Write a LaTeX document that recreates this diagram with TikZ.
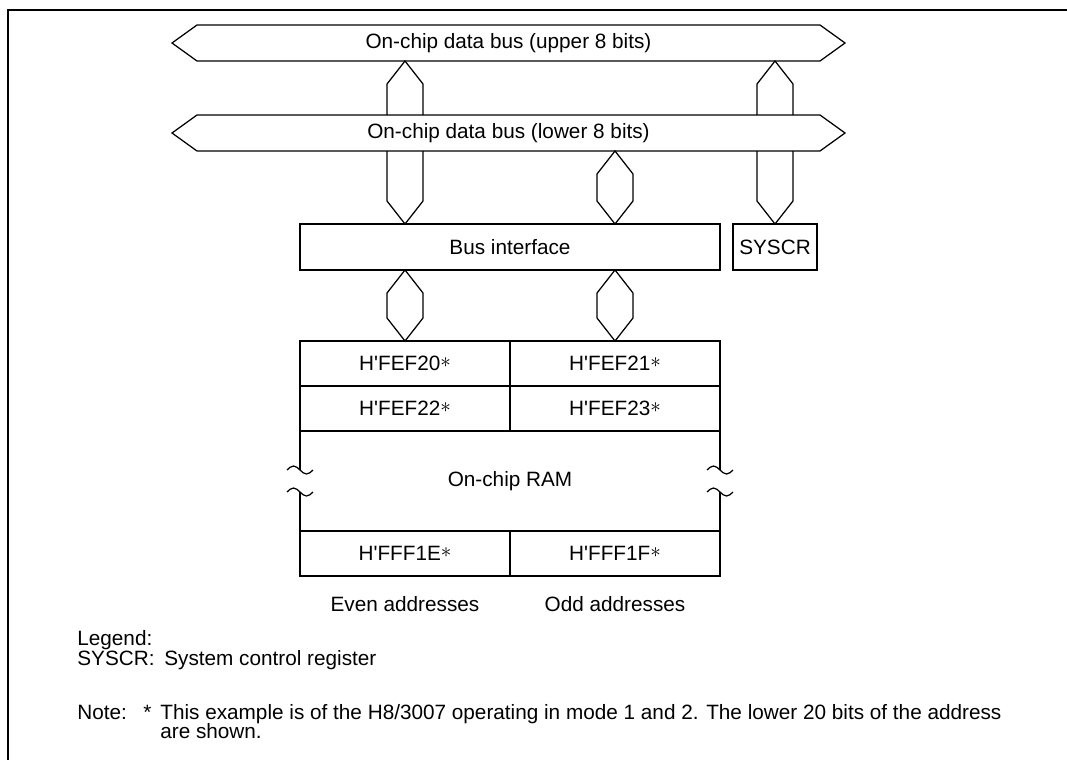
\documentclass[tikz,border=0pt]{standalone}
\usepackage{fontspec}
\setmainfont{Liberation Sans}
\usetikzlibrary{positioning, calc}

% wide bus outline round a text node
\newcommand{\busshape}[1]{%
  \draw[conn] (#1.north west) -- (#1.north east) -- ($(#1.east)+(25,0)$)
    -- (#1.south east) -- (#1.south west) -- ($(#1.west)+(-25,0)$) -- cycle;}
% vertical bus links: tip at top, tip at bottom, tips at both ends
\newcommand{\linkup}[2]{%
  \draw[conn] ($(#2)+(-18,0)$) -- ($(#1)+(-18,23)$) -- (#1)
    -- ($(#1)+(18,23)$) -- ($(#2)+(18,0)$);}
\newcommand{\linkdown}[2]{%
  \draw[conn] ($(#1)+(-18,0)$) -- ($(#2)+(-18,-23)$) -- (#2)
    -- ($(#2)+(18,-23)$) -- ($(#1)+(18,0)$);}
\newcommand{\linkboth}[2]{%
  \draw[conn] (#1) -- ($(#1)+(-18,23)$) -- ($(#2)+(-18,-23)$) -- (#2)
    -- ($(#2)+(18,-23)$) -- ($(#1)+(18,23)$) -- cycle;}
\newcommand{\adr}[1]{H\textquotesingle #1\raisebox{0.14em}{$\ast$}}

\begin{document}
\begin{tikzpicture}[
  x=0.2mm, y=-0.2mm,
  font=\fontsize{11.8}{14}\selectfont,
  conn/.style={line width=0.25mm, line join=miter},
  box/.style={draw, line width=0.25mm, outer sep=0pt, inner sep=0pt,
              minimum height=9.2mm},
  cell/.style={box, minimum width=42mm, minimum height=9mm},
  bus/.style={outer sep=0pt, inner sep=0pt, minimum width=124.6mm,
              minimum height=7.2mm},
  txt/.style={inner sep=0pt, anchor=base west},
  lbl/.style={inner sep=0pt}
]
\useasboundingbox (0,0) rectangle (1067,760);
\draw[line width=0.55mm] (1067,10) -- (8,10) -- (8,760);

% buses
\node[bus] (ub) at (508.5,43) {On-chip data bus (upper 8 bits)};
\node[bus] (lb) at (508.5,133) {On-chip data bus (lower 8 bits)};
\busshape{ub}
\busshape{lb}

% bus interface, SYSCR
\node[box, minimum width=84mm] (bif) at (510,247) {Bus interface};
\node[box, minimum width=16.8mm] (sys) at (775,247) {SYSCR};

% on-chip RAM
\node[cell] (a20) at (405,363.5) {\adr{FEF20}};
\node[cell, right=0pt of a20] (a21) {\adr{FEF21}};
\node[cell, below=0pt of a20] (a22) {\adr{FEF22}};
\node[cell, right=0pt of a22] (a23) {\adr{FEF23}};
\node[lbl, minimum width=84mm, minimum height=20mm, outer sep=0pt,
      below=0pt of a22.south east] (ram) {On-chip RAM};
\node[cell, below=0pt of ram.south west, anchor=north west] (a1e) {\adr{FFF1E}};
\node[cell, right=0pt of a1e] (a1f) {\adr{FFF1F}};

\foreach \s in {west,east} {
  \draw[conn] (ram.north \s) -- ++(0,39);
  \draw[conn] (ram.south \s) -- ++(0,-39);
  \foreach \dy in {39,61}
    \draw[conn] ($(ram.north \s)+(-13,\dy)$) sin ++(6.5,-4) cos ++(6.5,4)
      sin ++(6.5,4) cos ++(6.5,-4);
}

\node[lbl, below=4mm of a1e] (even) {Even addresses};
\node[lbl, below=4mm of a1f] (odd) {Odd addresses};

% links
\coordinate (u1) at (ub.south -| a20);
\coordinate (u2) at (lb.north -| a20);
\coordinate (u3) at (ub.south -| sys);
\coordinate (u4) at (lb.north -| sys);
\coordinate (l1) at (lb.south -| a20);
\coordinate (l2) at (bif.north -| a20);
\coordinate (l3) at (lb.south -| a21);
\coordinate (l4) at (bif.north -| a21);
\coordinate (l5) at (lb.south -| sys);
\coordinate (b1) at (bif.south -| a20);
\coordinate (b2) at (bif.south -| a21);
\linkup{u1}{u2}
\linkup{u3}{u4}
\linkdown{l1}{l2}
\linkboth{l3}{l4}
\linkdown{l5}{sys.north}
\linkboth{b1}{a20.north}
\linkboth{b2}{a21.north}

% legend and note
\node[txt] (leg) at (77,645) {Legend:};
\node[txt] (legs) at (77,665) {SYSCR:};
\node[txt] (legt) at (164,665) {System control register};
\node[txt] (note) at (77,719) {Note:};
\node[txt] (nstar) at (143,719) {*};
\node[txt] (nt1) at (160,719) {This example is of the H8/3007 operating in mode 1 and 2. The lower 20 bits of the address};
\node[txt] (nt2) at (160,738) {are shown.};
\end{tikzpicture}
\end{document}
